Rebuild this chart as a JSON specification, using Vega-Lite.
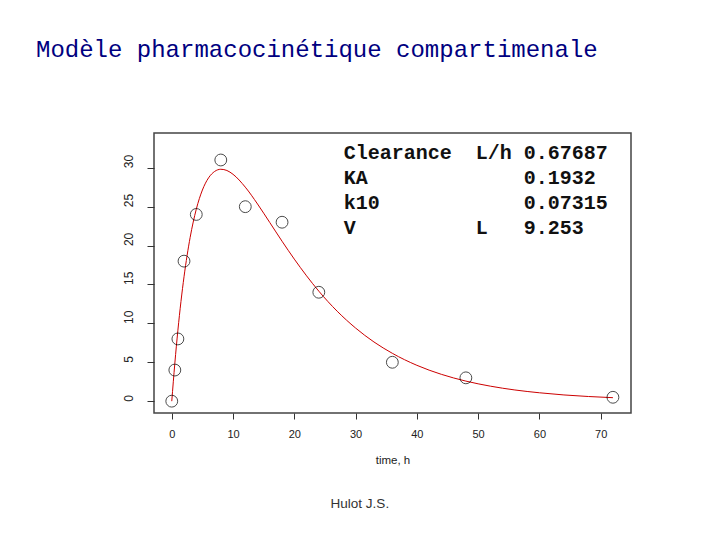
{
  "$schema": "https://vega.github.io/schema/vega-lite/v6.json",
  "width": 477,
  "height": 280,
  "autosize": "none",
  "padding": {"left": 154, "top": 133, "right": 89, "bottom": 127},
  "background": "white",
  "title": {
    "text": "Modèle pharmacocinétique compartimenale",
    "anchor": "start",
    "frame": "group",
    "dx": -118,
    "offset": 52,
    "baseline": "alphabetic",
    "font": "Liberation Mono",
    "fontSize": 24,
    "fontWeight": "normal",
    "color": "#000080"
  },
  "config": {
    "view": {"stroke": "#444", "strokeWidth": 1.5},
    "axis": {"domain": false, "grid": false, "tickColor": "#333", "labelFont": "Liberation Sans", "labelColor": "#222", "titleFont": "Liberation Sans", "titleColor": "#222", "titleFontWeight": "normal"}
  },
  "datasets": {
    "obs": [
      {"t": 0, "c": 0}, {"t": 0.5, "c": 4}, {"t": 1, "c": 8}, {"t": 2, "c": 18},
      {"t": 4, "c": 24}, {"t": 8, "c": 31}, {"t": 12, "c": 25}, {"t": 18, "c": 23},
      {"t": 24, "c": 14}, {"t": 36, "c": 5}, {"t": 48, "c": 3}, {"t": 72, "c": 0.5}
    ],
    "curve": [
      {"t": 0, "c": 0}, {"t": 0.5, "c": 4.87}, {"t": 1, "c": 9.12}, {"t": 1.5, "c": 12.81},
      {"t": 2, "c": 15.99}, {"t": 3, "c": 21.05}, {"t": 4, "c": 24.67}, {"t": 5, "c": 27.14},
      {"t": 6, "c": 28.70}, {"t": 7, "c": 29.53}, {"t": 8, "c": 29.81}, {"t": 9, "c": 29.65},
      {"t": 10, "c": 29.16}, {"t": 12, "c": 27.51}, {"t": 14, "c": 25.34}, {"t": 16, "c": 22.96},
      {"t": 18, "c": 20.56}, {"t": 20, "c": 18.26}, {"t": 22, "c": 16.11}, {"t": 24, "c": 14.14},
      {"t": 27, "c": 11.56}, {"t": 30, "c": 9.40}, {"t": 33, "c": 7.61}, {"t": 36, "c": 6.15},
      {"t": 40, "c": 4.61}, {"t": 44, "c": 3.45}, {"t": 48, "c": 2.58}, {"t": 52, "c": 1.93},
      {"t": 56, "c": 1.44}, {"t": 60, "c": 1.08}, {"t": 64, "c": 0.80}, {"t": 68, "c": 0.60},
      {"t": 72, "c": 0.45}
    ],
    "params": [
      {"param": "Clearance", "unit": "L/h", "value": "0.67687"},
      {"param": "KA", "unit": "", "value": "0.1932"},
      {"param": "k10", "unit": "", "value": "0.07315"},
      {"param": "V", "unit": "L", "value": "9.253"}
    ],
    "credit": [{"author": "Hulot J.S."}]
  },
  "layer": [
    {
      "data": {"name": "curve"},
      "mark": {"type": "line", "color": "#cc0000", "strokeWidth": 1, "interpolate": "monotone", "clip": true},
      "encoding": {
        "x": {
          "field": "t", "type": "quantitative",
          "scale": {"domain": [-2.9, 74.95], "nice": false, "zero": false},
          "axis": {"values": [0, 10, 20, 30, 40, 50, 60, 70], "tickSize": 6, "labelFontSize": 11, "labelPadding": 9, "title": "time, h", "titleFontSize": 11.5, "titlePadding": 15}
        },
        "y": {
          "field": "c", "type": "quantitative",
          "scale": {"domain": [-1.52, 34.47], "nice": false, "zero": false},
          "axis": {"values": [0, 5, 10, 15, 20, 25, 30], "tickSize": 7, "labelFontSize": 12, "labelAngle": 270, "labelAlign": "left", "labelBaseline": "middle", "labelPadding": 19, "labelFlush": false, "title": null}
        }
      }
    },
    {
      "data": {"name": "obs"},
      "mark": {"type": "point", "shape": "circle", "filled": false, "color": "black", "size": 140, "strokeWidth": 1},
      "encoding": {
        "x": {"field": "t", "type": "quantitative"},
        "y": {"field": "c", "type": "quantitative"}
      }
    },
    {
      "data": {"name": "params"},
      "transform": [
        {"calculate": "pad(datum.param, 11, '\u00a0') + pad(datum.unit, 4, '\u00a0') + datum.value", "as": "line"},
        {"aggregate": [{"op": "values", "field": "line", "as": "rows"}]},
        {"calculate": "pluck(datum.rows, 'line')", "as": "lines"}
      ],
      "mark": {"type": "text", "font": "Liberation Mono", "fontSize": 20, "fontWeight": "bold", "color": "#111", "align": "left", "baseline": "alphabetic", "lineHeight": 25},
      "encoding": {
        "x": {"datum": 28.06, "type": "quantitative"},
        "y": {"datum": 31.07, "type": "quantitative"},
        "text": {"field": "lines", "type": "nominal"}
      }
    },
    {
      "data": {"name": "credit"},
      "mark": {"type": "text", "font": "Liberation Sans", "fontSize": 13.5, "color": "#333", "align": "center", "baseline": "middle", "clip": false},
      "encoding": {
        "x": {"datum": 30.7, "type": "quantitative"},
        "y": {"datum": -13.2, "type": "quantitative"},
        "text": {"field": "author", "type": "nominal"}
      }
    }
  ]
}
